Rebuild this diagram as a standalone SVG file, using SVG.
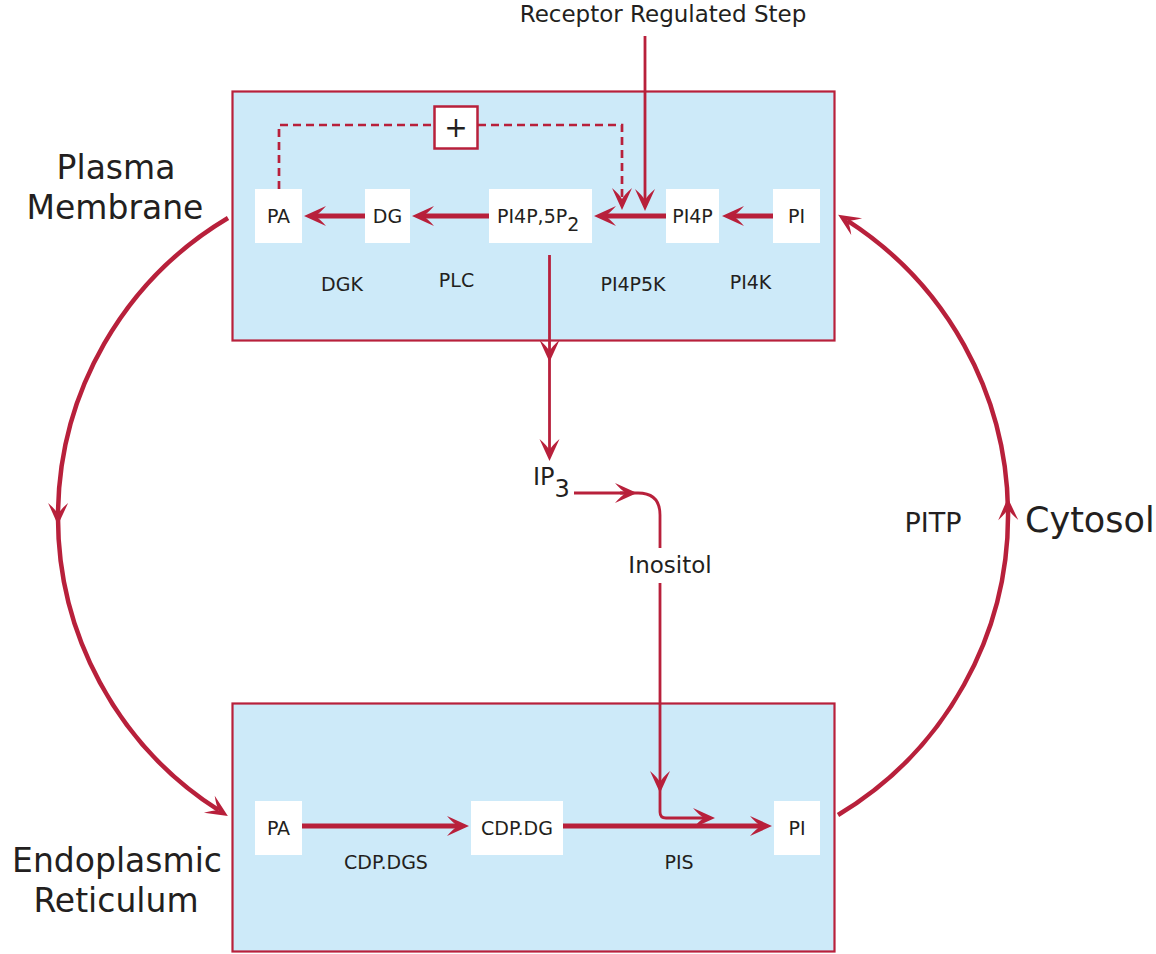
<svg xmlns="http://www.w3.org/2000/svg" width="1156" height="954" viewBox="0 0 1156 954">
<style>
text{font-family:"DejaVu Sans","Verdana",sans-serif;fill:#231f20}
.box{fill:#cdeaf9;stroke:#b8203b;stroke-width:2.2}
.node{fill:#ffffff}
.lbl{font-size:19px;text-anchor:middle}
.enz{font-size:19px;text-anchor:middle}
.big{font-size:33px;text-anchor:middle}
.thick{fill:none;stroke:#b8203b;stroke-width:5}
.thin{fill:none;stroke:#b8203b;stroke-width:2.8}
.arc{fill:none;stroke:#b8203b;stroke-width:4.5}
.dash{fill:none;stroke:#b8203b;stroke-width:2.7;stroke-dasharray:8 5}
</style>
<defs>
<marker id="ah" viewBox="-24 -11 26 22" refX="-11" refY="0" markerWidth="26" markerHeight="22" markerUnits="userSpaceOnUse" orient="auto">
<path d="M0,0 L-22,-10 Q-16,-3 -11,0 Q-16,3 -22,10 Z" fill="#b8203b"/>
</marker>
</defs>
<g id="plasma-membrane-box"><rect class="box" x="232.5" y="91.5" width="602" height="249"/></g>
<g id="er-box"><rect class="box" x="232.5" y="703.5" width="602" height="248"/></g>

<g id="connectors">
<path class="thick" d="M773,216 H733" marker-end="url(#ah)"/>
<path class="thick" d="M666,216 H605" marker-end="url(#ah)"/>
<path class="thick" d="M489,216 H423" marker-end="url(#ah)"/>
<path class="thick" d="M365,216 H315" marker-end="url(#ah)"/>
<path class="thick" d="M302,826 H458" marker-end="url(#ah)"/>
<path class="thick" d="M563,826 H761" marker-end="url(#ah)"/>
<path class="thin" d="M645,36 V200" marker-end="url(#ah)"/>
<path class="dash" d="M279,189 V125 H434"/>
<path class="dash" d="M478,125 H622 V199" marker-end="url(#ah)"/>
<path class="thin" d="M549.5,255 V351" marker-end="url(#ah)"/>
<path class="thin" d="M549.5,350 V450" marker-end="url(#ah)"/>
<path class="thin" d="M574,493 H626" marker-end="url(#ah)"/>
<path class="thin" d="M620,493 H638 Q660,493 660,515 V548"/>
<path class="thin" d="M660,583 V782" marker-end="url(#ah)"/>
<path class="thin" d="M660,781 V812 Q660,818 666,818 H704" marker-end="url(#ah)"/>
<path class="arc" d="M228,218 A348,348 0 0 0 58,514" marker-end="url(#ah)"/>
<path class="arc" d="M58,513 A348,348 0 0 0 218.6,810.2" marker-end="url(#ah)"/>
<path class="arc" d="M838,815 A350,350 0 0 0 1008,509" marker-end="url(#ah)"/>
<path class="arc" d="M1008,510 A350,350 0 0 0 847.4,220.6" marker-end="url(#ah)"/>
</g>

<g id="plus"><rect x="434.5" y="106.5" width="43" height="42" fill="#ffffff" stroke="#b8203b" stroke-width="2.5"/><text x="456" y="137" font-size="28" text-anchor="middle">+</text></g>

<g id="pm-PA"><rect class="node" x="255" y="189" width="47" height="54"/><text class="lbl" x="278.5" y="223">PA</text></g>
<g id="pm-DG"><rect class="node" x="365" y="189" width="45" height="54"/><text class="lbl" x="387.5" y="223">DG</text></g>
<g id="pm-PIP2"><rect class="node" x="489" y="189" width="103" height="54"/><text x="497" y="223" font-size="19">PI4P,5P<tspan font-size="19" dy="8">2</tspan></text></g>
<g id="pm-PI4P"><rect class="node" x="666" y="189" width="53" height="54"/><text class="lbl" x="692.5" y="223">PI4P</text></g>
<g id="pm-PI"><rect class="node" x="773" y="189" width="47" height="54"/><text class="lbl" x="796.5" y="223">PI</text></g>

<g id="er-PA"><rect class="node" x="255" y="801" width="47" height="54"/><text class="lbl" x="278.5" y="835">PA</text></g>
<g id="er-CDPDG"><rect class="node" x="471" y="801" width="92" height="54"/><text class="lbl" x="517" y="835">CDP.DG</text></g>
<g id="er-PI"><rect class="node" x="774" y="801" width="46" height="54"/><text class="lbl" x="797" y="835">PI</text></g>

<g id="labels">
<text x="663" y="22" font-size="23" text-anchor="middle">Receptor Regulated Step</text>
<text class="enz" x="342" y="291">DGK</text>
<text class="enz" x="456.5" y="287">PLC</text>
<text class="enz" x="633" y="291">PI4P5K</text>
<text class="enz" x="750.5" y="289">PI4K</text>
<text class="enz" x="386" y="869">CDP.DGS</text>
<text class="enz" x="679" y="869">PIS</text>
<text x="533" y="485" font-size="24">IP<tspan dy="12">3</tspan></text>
<text x="670" y="573" font-size="23" text-anchor="middle">Inositol</text>
<text x="933" y="532" font-size="27" text-anchor="middle">PITP</text>
<text class="big" x="116" y="179">Plasma</text>
<text class="big" x="115" y="219">Membrane</text>
<text x="1025" y="532" font-size="35">Cytosol</text>
<text class="big" x="117" y="872">Endoplasmic</text>
<text class="big" x="116" y="912">Reticulum</text>
</g>
</svg>
